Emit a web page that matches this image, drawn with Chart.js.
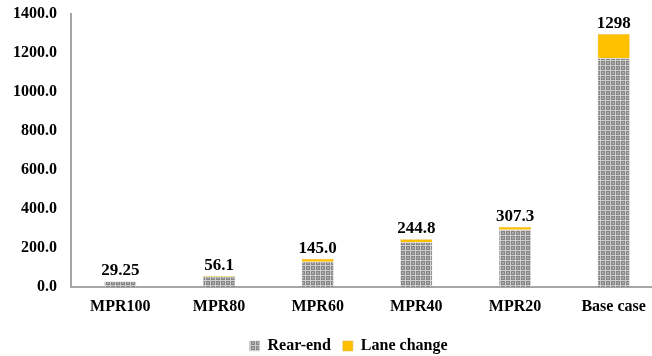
<!DOCTYPE html>
<html>
<head>
<meta charset="utf-8">
<script src="https://cdn.jsdelivr.net/npm/chart.js@4"></script>
<style>
  html, body { margin: 0; padding: 0; background: #fff; overflow: hidden; }
  #wrap { width: 680px; height: 356px; }
</style>
</head>
<body>
<div id="wrap"><canvas id="chart"></canvas></div>
<script>
'use strict';

// categories and series
const categories = ['MPR100', 'MPR80', 'MPR60', 'MPR40', 'MPR20', 'Base case'];
const rearEnd = [28.0, 52.5, 129.0, 230.0, 293.0, 1173.0];
const laneChange = [1.25, 3.6, 16.0, 14.8, 14.3, 125.0];
const totalLabels = ['29.25', '56.1', '145.0', '244.8', '307.3', '1298'];
const yTicks = [0, 200, 400, 600, 800, 1000, 1200, 1400];

const FONT = '"Liberation Serif", "Times New Roman", serif';

// small grid pattern for the rear-end bars
function makePattern() {
    const c = document.createElement('canvas');
    c.width = 5;
    c.height = 5;
    const g = c.getContext('2d');
    g.fillStyle = '#858585';
    g.fillRect(0, 0, 5, 5);
    g.fillStyle = '#cfcfcf';
    g.fillRect(0, 0, 5, 1);
    g.fillRect(0, 0, 1, 5);
    g.fillStyle = '#a8a8a8';
    g.fillRect(2, 2, 2, 2);
    return g.createPattern(c, 'repeat');
}
const pattern = makePattern();

// totals drawn above each stack
const totalsPlugin = {
    id: 'totals',
    afterDatasetsDraw(chart) {
        const ctx = chart.ctx;
        const meta = chart.getDatasetMeta(1);
        ctx.save();
        ctx.font = 'bold 17px ' + FONT;
        ctx.fillStyle = '#000';
        ctx.textAlign = 'center';
        ctx.textBaseline = 'bottom';
        meta.data.forEach((bar, i) => {
            ctx.fillText(totalLabels[i], bar.x, bar.y - 2);
        });
        ctx.restore();
    }
};

// legend sits a bit right of centre and low in the original
const legendShift = {
    id: 'legendShift',
    beforeDraw(chart) {
        chart.legend.left = 34;
        chart.legend.right = 663;
        chart.legend.top = 326;
    }
};

const config = {
    type: 'bar',
    data: {
        labels: categories,
        datasets: [
            {
                label: 'Rear-end',
                data: rearEnd,
                backgroundColor: pattern,
                borderColor: '#c8c8c8',
                borderWidth: 0.5
            },
            {
                label: 'Lane change',
                data: laneChange,
                backgroundColor: '#FFC000',
                borderColor: '#d9b040',
                borderWidth: 0.5
            }
        ]
    },
    options: {
        responsive: true,
        maintainAspectRatio: false,
        animation: false,
        datasets: {
            bar: { categoryPercentage: 1.0, barPercentage: 0.325 }
        },
        layout: {
            padding: { left: 0, right: 17, top: 14, bottom: 0 }
        },
        plugins: {
            legend: {
                position: 'bottom',
                labels: {
                    boxWidth: 10,
                    boxHeight: 10,
                    padding: 12,
                    color: '#000',
                    font: { family: FONT, size: 16, weight: 'bold' }
                }
            },
            tooltip: { enabled: false }
        },
        scales: {
            x: {
                stacked: true,
                afterFit(scale) { scale.height = 31; },
                grid: { display: false, drawTicks: false },
                border: { color: '#a6a6a6', width: 2 },
                ticks: {
                    padding: 10,
                    color: '#000',
                    font: { family: FONT, size: 16, weight: 'bold' }
                }
            },
            y: {
                stacked: true,
                min: 0,
                max: 1400,
                afterFit(scale) {
                    scale.width = 71;
                    scale.paddingTop = 0;
                },
                afterBuildTicks(scale) {
                    scale.ticks = yTicks.map(v => ({ value: v }));
                },
                grid: { display: false, drawTicks: false },
                border: { color: '#a6a6a6', width: 2 },
                ticks: {
                    padding: 14,
                    color: '#000',
                    font: { family: FONT, size: 16, weight: 'bold' },
                    callback: v => Number(v).toFixed(1)
                }
            }
        }
    },
    plugins: [totalsPlugin, legendShift]
};

new Chart(document.getElementById('chart'), config);
</script>
</body>
</html>
